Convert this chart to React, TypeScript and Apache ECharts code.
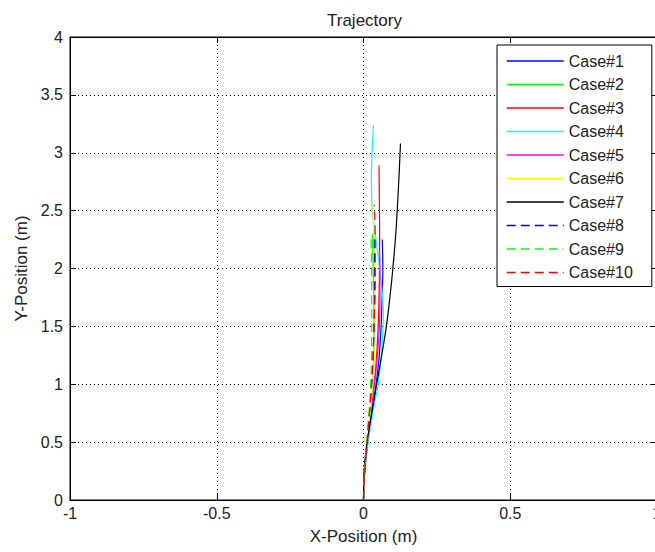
import React, { useEffect, useRef } from "react";
import * as echarts from "echarts";

const seriesNames = ["Case#1", "Case#2", "Case#3", "Case#4", "Case#5", "Case#6", "Case#7", "Case#8", "Case#9", "Case#10"];

const case1: [number, number][] = [[0, 0], [0.003, 0.2], [0.012, 0.45], [0.025, 0.7], [0.04, 0.95], [0.052, 1.2], [0.06, 1.5], [0.064, 1.8], [0.066, 2.0], [0.064, 2.25]];
const case2: [number, number][] = [[0, 0], [0.004, 0.25], [0.014, 0.5], [0.026, 0.8], [0.034, 1.1], [0.036, 1.5], [0.034, 1.9], [0.03, 2.3]];
const case3: [number, number][] = [[0, 0], [0.004, 0.25], [0.016, 0.55], [0.03, 0.85], [0.042, 1.15], [0.05, 1.5], [0.054, 1.9], [0.055, 2.3], [0.054, 2.6], [0.053, 2.89]];
const case4: [number, number][] = [[0, 0], [0.004, 0.25], [0.016, 0.5], [0.035, 0.8], [0.05, 1.0], [0.062, 1.3], [0.068, 1.6], [0.06, 1.9], [0.045, 2.2], [0.03, 2.5], [0.027, 2.8], [0.034, 3.24]];
const case5: [number, number][] = [[0, 0], [0.004, 0.25], [0.014, 0.5], [0.028, 0.8], [0.042, 1.1], [0.052, 1.4], [0.056, 1.7], [0.056, 2.0], [0.054, 2.15]];
const case6: [number, number][] = [[0, 0], [0.003, 0.25], [0.013, 0.5], [0.025, 0.8], [0.034, 1.1], [0.04, 1.4], [0.04, 1.8], [0.036, 2.2], [0.032, 2.55]];
const case7: [number, number][] = [[0, 0], [0.002, 0.25], [0.012, 0.5], [0.028, 0.75], [0.045, 1.0], [0.062, 1.25], [0.078, 1.5], [0.09, 1.75], [0.1, 2.0], [0.11, 2.3], [0.117, 2.6], [0.122, 2.85], [0.126, 3.08]];
const case8: [number, number][] = [[0, 0], [0.003, 0.25], [0.012, 0.5], [0.022, 0.8], [0.03, 1.1], [0.036, 1.5], [0.038, 1.9], [0.036, 2.3]];
const case9: [number, number][] = [[0, 0], [0.003, 0.25], [0.01, 0.5], [0.02, 0.8], [0.026, 1.1], [0.028, 1.5], [0.028, 1.9], [0.026, 2.25]];
const case10: [number, number][] = [[0, 0], [0.004, 0.25], [0.012, 0.5], [0.022, 0.8], [0.03, 1.1], [0.036, 1.5], [0.04, 1.9], [0.04, 2.25], [0.037, 2.55]];

const seriesData = [case1, case2, case3, case4, case5, case6, case7, case8, case9, case10];
const seriesColors = ["#0000ff", "#00ff00", "#ff0000", "#00ffff", "#ff00ff", "#ffff00", "#000000", "#0000ff", "#00ff00", "#ff0000"];
const seriesDashed = [false, false, false, false, false, false, false, true, true, true];

const xMin = -1, xMax = 1, xStep = 0.5;
const yMin = 0, yMax = 4, yStep = 0.5;

const FONT = "'Liberation Sans', Arial, sans-serif";

export default function App() {
  const ref = useRef<HTMLDivElement>(null);
  useEffect(() => {
    document.body.style.margin = "0";
    const chart = echarts.init(ref.current!, null, { renderer: "svg" });
    const tick = { show: true, inside: true, length: 6, lineStyle: { color: "#000", width: 1 } };
    const split = { show: true, lineStyle: { color: "#000", width: 1, type: [1, 3] as any } };
    const lbl = { color: "#222", fontSize: 16, fontFamily: FONT };
    const dash = (i: number) => (seriesDashed[i] ? [9, 5] : "solid");
    chart.setOption({
      animation: false,
      backgroundColor: "#fff",
      title: {
        text: "Trajectory",
        left: 322,
        top: 7,
        textStyle: { color: "#222", fontSize: 17, fontWeight: "normal", fontFamily: FONT },
      },
      grid: {
        left: 70, top: 37, width: 587, height: 463,
        outerBoundsMode: "none", containLabel: false,
        show: true, borderColor: "#000", borderWidth: 1, backgroundColor: "#fff",
      },
      legend: {
        orient: "vertical",
        left: 497,
        top: 45,
        data: seriesNames.map((name, i) => ({
          name,
          itemStyle: { opacity: 0, borderWidth: 0, color: seriesColors[i] },
          lineStyle: { color: seriesColors[i], width: 1.5, type: dash(i), opacity: 1 },
        })),
        itemWidth: 57,
        itemHeight: 16,
        itemGap: 7.5,
        padding: [8, 19, 6, 9],
        backgroundColor: "#fff",
        borderColor: "#000",
        borderWidth: 1,
        borderRadius: 0,
        textStyle: { color: "#222", fontSize: 16, fontFamily: FONT, lineHeight: 16 },
      },
      xAxis: [
        {
          type: "value", min: xMin, max: xMax, interval: xStep, position: "bottom",
          name: "X-Position (m)", nameLocation: "middle", nameGap: 28,
          nameTextStyle: { color: "#222", fontSize: 17, fontFamily: FONT },
          axisLine: { show: true, onZero: false, lineStyle: { color: "#000" } },
          axisTick: tick, axisLabel: { ...lbl, margin: 5 }, splitLine: split,
        },
        {
          type: "value", min: xMin, max: xMax, interval: xStep, position: "top",
          axisLine: { show: true, onZero: false, lineStyle: { color: "#000" } },
          axisTick: tick, axisLabel: { show: false }, splitLine: { show: false },
        },
      ],
      yAxis: [
        {
          type: "value", min: yMin, max: yMax, interval: yStep, position: "left",
          name: "Y-Position (m)", nameLocation: "middle", nameGap: 40,
          nameTextStyle: { color: "#222", fontSize: 17, fontFamily: FONT },
          axisLine: { show: true, onZero: false, lineStyle: { color: "#000" } },
          axisTick: tick, axisLabel: { ...lbl, margin: 7 }, splitLine: split,
        },
        {
          type: "value", min: yMin, max: yMax, interval: yStep, position: "right",
          axisLine: { show: true, onZero: false, lineStyle: { color: "#000" } },
          axisTick: tick, axisLabel: { show: false }, splitLine: { show: false },
        },
      ],
      series: seriesNames.map((name, i) => ({
        name,
        type: "line",
        xAxisIndex: 0,
        yAxisIndex: 0,
        data: seriesData[i],
        symbol: "none",
        smooth: 0.3,
        color: seriesColors[i],
        itemStyle: { color: seriesColors[i] },
        lineStyle: { color: seriesColors[i], width: 1.2, type: dash(i) },
      })),
    });
    return () => chart.dispose();
  }, []);
  return <div ref={ref} style={{ width: 655, height: 552 }} />;
}
